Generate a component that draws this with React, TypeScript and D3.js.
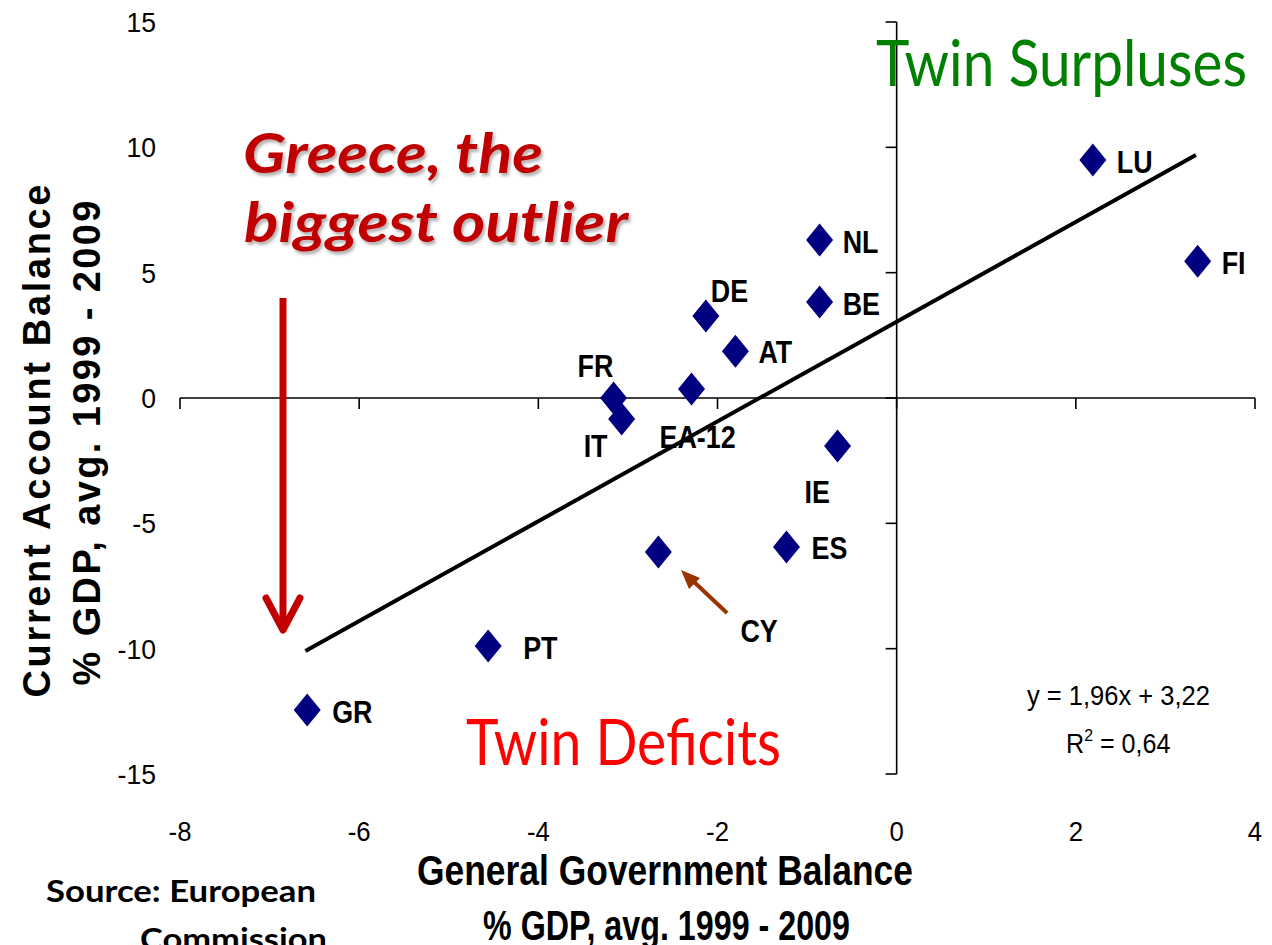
import React from "react";
import * as d3 from "d3";

const countries = ["LU", "FI", "NL", "BE", "DE", "AT", "EA-12", "FR", "IT", "IE", "ES", "CY", "PT", "GR"];
const govBalance = [2.19, 3.36, -0.86, -0.86, -2.13, -1.8, -2.29, -3.16, -3.07, -0.66, -1.23, -2.66, -4.56, -6.58];
const currentAccount = [9.49, 5.46, 6.3, 3.83, 3.27, 1.87, 0.36, 0.0, -0.84, -1.91, -5.94, -6.14, -9.89, -12.45];
const xTicks = [-8, -6, -4, -2, 0, 2, 4];
const yTicks = [15, 10, 5, 0, -5, -10, -15];
const trendX = [-6.6, 3.34];
const trendY = [-10.09, 9.69];

// label layout (pixel offsets from marker centre)
const labelOffsets: Record<string, [number, number]> = {
  LU: [24, 13], FI: [24, 13], NL: [23, 13], BE: [23, 13], DE: [5, -14], AT: [23, 12],
  "EA-12": [-32, 59], FR: [-36, -21], IT: [-38, 38], IE: [-33, 57], ES: [25, 12],
  CY: [82, 90], PT: [35, 13], GR: [25, 13],
};

const SANS = "'Liberation Sans', Arial, sans-serif";
const CAL = "Lato, 'Open Sans', sans-serif";

function NText(props: {
  x: number; y: number; sx?: number; anchor?: string; size: number; bold?: boolean; children: React.ReactNode; fill?: string;
}) {
  const { x, y, sx = 0.82, anchor = "start", size, bold, children, fill = "#000" } = props;
  return (
    <text
      transform={`translate(${x},${y}) scale(${sx},1)`}
      textAnchor={anchor}
      fontFamily={SANS}
      fontWeight={bold ? "bold" : "normal"}
      fontSize={size}
      fill={fill}
    >
      {children}
    </text>
  );
}

export default function App() {
  const x = d3.scaleLinear().domain([-8, 4]).range([180, 1255]);
  const y = d3.scaleLinear().domain([15, -15]).range([22, 774]);
  const x0 = x(0);
  const y0 = y(0);
  const diamond = (cx: number, cy: number) =>
    `M${cx},${cy - 16.5}L${cx + 13.5},${cy}L${cx},${cy + 16.5}L${cx - 13.5},${cy}Z`;

  return (
    <svg width={1272} height={945} style={{ position: "absolute", left: 0, top: 0, background: "#fff" }}>
      <defs>
        <filter id="sh" x="-10%" y="-10%" width="130%" height="140%">
          <feDropShadow dx="2" dy="3" stdDeviation="1.5" floodColor="#000" floodOpacity="0.3" />
        </filter>
      </defs>
      {/* axes */}
      <line x1={x(-8)} x2={x(4)} y1={y0} y2={y0} stroke="#000" strokeWidth={1.6} />
      <line x1={x0} x2={x0} y1={y(15)} y2={y(-15)} stroke="#000" strokeWidth={1.6} />
      {xTicks.map((t) => (
        <g key={"xt" + t}>
          <line x1={x(t)} x2={x(t)} y1={y0} y2={y0 + 11} stroke="#000" strokeWidth={1.6} />
          <NText x={x(t)} y={841} anchor="middle" size={28} sx={0.92}>{t}</NText>
        </g>
      ))}
      {yTicks.map((t) => (
        <g key={"yt" + t}>
          <line x1={x0 - 11} x2={x0} y1={y(t)} y2={y(t)} stroke="#000" strokeWidth={1.6} />
          <NText x={156} y={y(t) + 10} anchor="end" size={28} sx={0.95}>{t}</NText>
        </g>
      ))}
      {/* trend line */}
      <line x1={x(trendX[0])} y1={y(trendY[0])} x2={x(trendX[1])} y2={y(trendY[1])} stroke="#000" strokeWidth={4} />
      {/* points */}
      {countries.map((c, i) => {
        const cx = x(govBalance[i]);
        const cy = y(currentAccount[i]);
        const [dx, dy] = labelOffsets[c];
        return (
          <g key={c}>
            <path d={diamond(cx, cy)} fill="#000080" />
            <NText x={cx + dx} y={cy + dy} size={32} bold sx={0.84}>{c}</NText>
          </g>
        );
      })}
      {/* CY arrow */}
      <line x1={727} y1={613} x2={692} y2={580} stroke="#993300" strokeWidth={4} />
      <path d="M681,570 L700,578 L689,589 Z" fill="#993300" />
      {/* Greece arrow */}
      <line x1={283} y1={298} x2={283} y2={626} stroke="#C00000" strokeWidth={7} />
      <polyline points="266,598 283,630 300,598" fill="none" stroke="#C00000" strokeWidth={7} strokeLinecap="round" strokeLinejoin="round" />
      {/* annotations */}
      <g filter="url(#sh)">
        <text x={243} y={173} fontFamily={CAL} fontWeight="bold" fontStyle="italic" fontSize={56} fill="#C00000" textLength={300} lengthAdjust="spacingAndGlyphs">
          Greece, the
        </text>
        <text x={244} y={242} fontFamily={CAL} fontWeight="bold" fontStyle="italic" fontSize={56} fill="#C00000" textLength={384} lengthAdjust="spacingAndGlyphs">
          biggest outlier
        </text>
      </g>
      <text x={876} y={86} fontFamily={CAL} fontSize={63} fill="#008000" textLength={371} lengthAdjust="spacingAndGlyphs">
        Twin Surpluses
      </text>
      <text x={466} y={765} fontFamily={CAL} fontSize={63} fill="#FF0000" textLength={315} lengthAdjust="spacingAndGlyphs">
        Twin Deficits
      </text>
      <text x={1027} y={705} fontFamily={SANS} fontSize={27} fill="#000" textLength={183} lengthAdjust="spacingAndGlyphs">
        y = 1,96x + 3,22
      </text>
      <text transform="translate(1066,753) scale(0.93,1)" fontFamily={SANS} fontSize={27} fill="#000">
        R<tspan dy={-12} fontSize={17}>2</tspan>
        <tspan dy={12}> = 0,64</tspan>
      </text>
      {/* axis titles */}
      <text x={417} y={885} fontFamily={SANS} fontWeight="bold" fontSize={42} fill="#000" textLength={496} lengthAdjust="spacingAndGlyphs">
        General Government Balance
      </text>
      <text x={483} y={940} fontFamily={SANS} fontWeight="bold" fontSize={42} fill="#000" textLength={367} lengthAdjust="spacingAndGlyphs">
        % GDP, avg. 1999 - 2009
      </text>
      <text transform="translate(50,441) rotate(-90)" textAnchor="middle" fontFamily={SANS} fontWeight="bold" fontSize={38} fill="#000" textLength={513} lengthAdjust="spacing">
        Current Account Balance
      </text>
      <text transform="translate(100,443) rotate(-90)" textAnchor="middle" fontFamily={SANS} fontWeight="bold" fontSize={38} fill="#000" textLength={485} lengthAdjust="spacing">
        % GDP, avg. 1999 - 2009
      </text>
      {/* source */}
      <text x={46} y={902} fontFamily={CAL} fontWeight="bold" fontSize={30} fill="#000" textLength={270} lengthAdjust="spacingAndGlyphs">
        Source: European
      </text>
      <text x={140} y={950} fontFamily={CAL} fontWeight="bold" fontSize={30} fill="#000" textLength={187} lengthAdjust="spacingAndGlyphs">
        Commission
      </text>
    </svg>
  );
}
